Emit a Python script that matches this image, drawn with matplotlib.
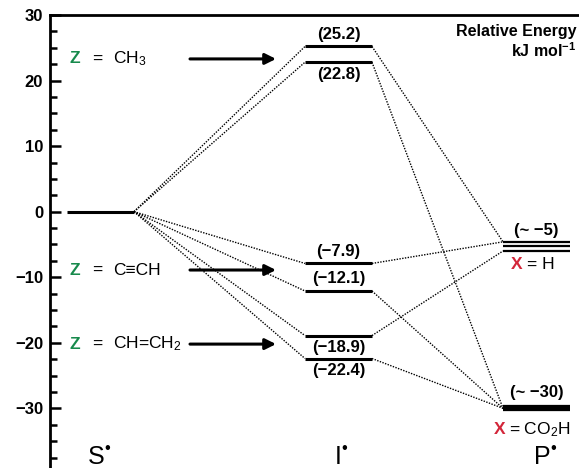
import matplotlib
matplotlib.use("Agg")
import matplotlib.pyplot as plt
from matplotlib.ticker import MultipleLocator

plt.rcParams['font.family'] = ['Liberation Sans', 'DejaVu Sans']
plt.rcParams['mathtext.fontset'] = 'custom'
plt.rcParams['mathtext.rm'] = 'Liberation Sans'
plt.rcParams['mathtext.it'] = 'Liberation Sans'
plt.rcParams['mathtext.bf'] = 'Liberation Sans:bold'

# energies (kJ/mol)
s_energy = 0.0
i_energies = [25.2, 22.8, -7.9, -12.1, -18.9, -22.4]
i_labels = ['(25.2)', '(22.8)', '(\u22127.9)', '(\u221212.1)', '(\u221218.9)', '(\u221222.4)']
i_product = ['H', 'CO2H', 'H', 'CO2H', 'H', 'CO2H']
p_h_lines = [-4.6, -5.3, -6.0]
p_co2h = -30.0
substituents = ['CH$_3$', 'C\u2261CH', 'CH=CH$_2$']
stages = ['S', 'I', 'P']

GREEN = '#178a4c'
RED = '#d3263a'

# layout (x in pixel-like units)
S_X = (67, 134)
I_X = (305, 372)
P_X = (503, 570)
label_above = [True, False, True, True, False, False]
sub_y = [23.3, -8.9, -20.2]
h_target = {0: 0, 2: 0, 4: 2}   # which of the three X=H lines each one hits
stage_x = [96, 338, 542]
stage_halfw = {'S': 6.0, 'I': 2.5, 'P': 6.0}   # points, to place the radical dot

fig = plt.figure(figsize=(5.79, 4.68), dpi=100)
ax = fig.add_axes([50 / 579, 0, 529 / 579, 453 / 468])
ax.set_xlim(50, 579)
ax.set_ylim(-39.1, 30)

for side in ['right', 'bottom']:
    ax.spines[side].set_visible(False)
for side in ['left', 'top']:
    ax.spines[side].set_linewidth(2)
ax.set_xticks([])
ax.yaxis.set_major_locator(MultipleLocator(10))
ax.yaxis.set_minor_locator(MultipleLocator(2.5))
ax.tick_params(axis='y', which='major', direction='in', length=8, width=1.8,
               labelsize=12, pad=5)
ax.tick_params(axis='y', which='minor', direction='in', length=5, width=1.8)
for t in ax.get_yticklabels():
    t.set_fontweight('bold')

dot = dict(color='black', lw=1.0, ls=(0, (1, 1)))

# S level
ax.plot(S_X, [s_energy, s_energy], color='black', lw=2.2, solid_capstyle='butt')

# I levels + connections
for k, (e, lab) in enumerate(zip(i_energies, i_labels)):
    ax.plot(I_X, [e, e], color='black', lw=2.2, solid_capstyle='butt')
    ax.plot([S_X[1], I_X[0]], [s_energy, e], **dot)
    if i_product[k] == 'H':
        target = p_h_lines[h_target[k]]
    else:
        target = p_co2h
    ax.plot([I_X[1], P_X[0]], [e, target], **dot)
    xc = (I_X[0] + I_X[1]) / 2
    if label_above[k]:
        ax.text(xc, e + 0.7, lab, ha='center', va='bottom', fontsize=12,
                fontweight='bold')
    else:
        ax.text(xc, e - 0.7, lab, ha='center', va='top', fontsize=12,
                fontweight='bold')

# P levels
for y in p_h_lines:
    ax.plot(P_X, [y, y], color='black', lw=1.6, solid_capstyle='butt')
ax.plot(P_X, [p_co2h, p_co2h], color='black', lw=4.5, solid_capstyle='butt')

pc = (P_X[0] + P_X[1]) / 2
ax.text(pc, p_h_lines[0] + 0.6, '(~ \u22125)', ha='center', va='bottom',
        fontsize=12, fontweight='bold')
ax.text(pc, p_co2h + 1.3, '(~ \u221230)', ha='center', va='bottom',
        fontsize=12, fontweight='bold')
ax.text(517, -8.1, 'X', color=RED, ha='center', va='center', fontsize=12.5,
        fontweight='bold')
ax.text(527, -8.1, '= H', ha='left', va='center', fontsize=12.5)
ax.text(500, -33.3, 'X', color=RED, ha='center', va='center', fontsize=12.5,
        fontweight='bold')
ax.text(509, -33.3, '= CO$_2$H', ha='left', va='center', fontsize=12.5)

# substituent labels and arrows
for name, y in zip(substituents, sub_y):
    ax.text(70, y, 'Z', color=GREEN, ha='left', va='center', fontsize=12.5,
            fontweight='bold')
    ax.text(92, y, '=', ha='left', va='center', fontsize=12.5)
    ax.text(113, y, name, ha='left', va='center', fontsize=12.5)
    ax.annotate('', xy=(276, y), xytext=(190, y),
                arrowprops=dict(arrowstyle='-|>', lw=2.2, color='black',
                                mutation_scale=16, shrinkA=0, shrinkB=0))

# stage labels with radical dot
for name, x in zip(stages, stage_x):
    ax.text(x, -37.4, name, ha='center', va='center', fontsize=18)
    ax.annotate('\u2022', xy=(x, -37.4), xytext=(stage_halfw[name], 6),
                textcoords='offset points', ha='left', va='center', fontsize=12)

ax.text(576, 27.5, 'Relative Energy', ha='right', va='center', fontsize=11.5,
        fontweight='bold')
ax.text(576, 24.5, 'kJ mol$^{\\mathbf{\u22121}}$', ha='right', va='center',
        fontsize=11.5, fontweight='bold')

fig.savefig('out.png', dpi=100)
